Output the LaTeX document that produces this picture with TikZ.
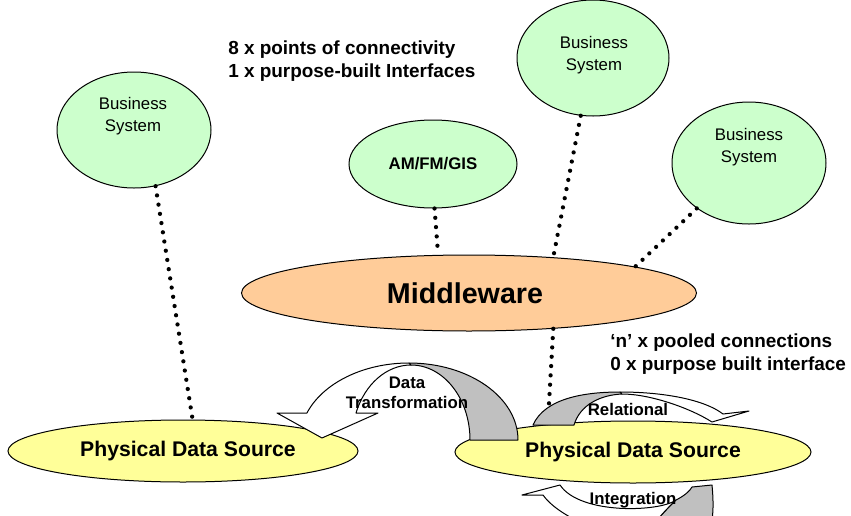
\documentclass[tikz,border=0pt]{standalone}
\usepackage{fontspec}
\setmainfont{Liberation Sans}
\usetikzlibrary{shapes.geometric}
\newdimen\pu \pu=0.75pt
\definecolor{bizgreen}{HTML}{CCFFCC}
\definecolor{mworange}{HTML}{FFCC99}
\definecolor{srcyellow}{HTML}{FFFF99}
\definecolor{backgray}{HTML}{C0C0C0}
\newcommand\bodysize{\fontsize{12.6}{16.5}\selectfont}
\newcommand\arrowsize{\fontsize{12.6}{15}\selectfont}
\newcommand\notesize{\fontsize{14.2}{17.25}\selectfont}
\newcommand\srcsize{\fontsize{15.9}{19}\selectfont}
\begin{document}
\begin{tikzpicture}[x=0.75pt,y=-0.75pt,
  bubble/.style={ellipse, draw=black, line width=0.75pt, inner sep=0pt},
  link/.style={line width=3.2pt, line cap=round, dash pattern=on 0pt off 7pt},
  ribbon/.style={draw=black, line width=0.75pt, line join=round},
  lbl/.style={inner sep=0pt, align=center, font=\bodysize},
  arrlbl/.style={inner sep=0pt, align=center, font=\bfseries\arrowsize},
  note/.style={inner sep=0pt, anchor=west, align=left, font=\bfseries\notesize}]
\useasboundingbox (0,0) rectangle (851,515);
\clip (0,0) rectangle (851,515);

% systems and data sources
\node[bubble, fill=bizgreen, minimum width=154\pu, minimum height=116\pu] (bsL) at (134,130) {};
\node[bubble, fill=bizgreen, minimum width=152\pu, minimum height=116\pu] (bsT) at (593,58) {};
\node[bubble, fill=bizgreen, minimum width=154\pu, minimum height=122\pu] (bsR) at (749,163) {};
\node[bubble, fill=bizgreen, minimum width=168\pu, minimum height=88\pu,
      font=\bfseries\bodysize] (gis) at (433,164) {AM/FM/GIS};
\node[bubble, fill=mworange, minimum width=455\pu, minimum height=76\pu] (mw) at (469,293) {};
\node[bubble, fill=srcyellow, minimum width=350\pu, minimum height=62\pu] (pdsL) at (183,451) {};
\node[bubble, fill=srcyellow, minimum width=356\pu, minimum height=62\pu] (pdsR) at (633,452) {};

\node[lbl] (bsLt) at (133,116) {Business\\System};
\node[lbl] (bsTt) at (594,55) {Business\\System};
\node[lbl] (bsRt) at (749,147) {Business\\System};
\node[inner sep=0pt, font=\bfseries\fontsize{21.5}{26}\selectfont] (mwt) at (465,293) {Middleware};
\node[inner sep=0pt, font=\bfseries\srcsize] (pdsLt) at (188,451) {Physical Data Source};
\node[inner sep=0pt, font=\bfseries\srcsize] (pdsRt) at (633,452) {Physical Data Source};

% dotted links
\draw[link] (bsL.-69.4) -- (pdsL.73.8);
\draw[link] (gis.-88.7) -- (mw.129);
\draw[link] (bsT.-102.8) -- (mw.23.5);
\draw[link] (bsR.-139) -- (mw.9.3);
\draw[link] (mw.-23.7) -- (pdsR.162.3);

% data transformation ribbon
\filldraw[ribbon, fill=white] (277,413) -- (322,438) -- (378,413) -- (356,413)
  arc[start angle=201.1, end angle=270, x radius=59, y radius=75]
  -- (409,363)
  arc[start angle=270, end angle=200.5, x radius=109, y radius=77]
  -- cycle;
\filldraw[ribbon, fill=backgray] (411,365)
  arc[start angle=270, end angle=360, x radius=59, y radius=75]
  -- (518,440)
  arc[start angle=360, end angle=270, x radius=109, y radius=77]
  -- cycle;
\node[arrlbl] (dtt) at (407,393) {Data\\Transformation};

% relational ribbon
\filldraw[ribbon, fill=backgray] (533,425) .. controls (545,398) and (585,392) .. (620,392)
  -- (622,394) .. controls (600,395) and (580,405) .. (574,425) -- cycle;
\filldraw[ribbon, fill=white] (620,392) .. controls (665,392) and (705,400) .. (723,414)
  -- (749,411) -- (712,422)
  .. controls (690,408) and (650,394) .. (622,394) -- cycle;
\node[arrlbl] (relt) at (628,409) {Relational};

% integration ribbon
\filldraw[ribbon, fill=backgray] (676,500) .. controls (684,496) and (690,491) .. (692,487)
  -- (712,485) .. controls (714,505) and (713,520) .. (710,530)
  -- (650,530) .. controls (660,515) and (670,506) .. (676,500) -- cycle;
\filldraw[ribbon, fill=white] (522,495) -- (560,485)
  .. controls (580,515) and (660,512) .. (676,500)
  .. controls (670,506) and (660,515) .. (650,530)
  -- (600,530) .. controls (575,522) and (552,508) .. (543,495) -- cycle;
\node[arrlbl] (intt) at (633,500) {Integration};

% annotations
\node[note] (note1) at (228,61.5) {8 x points of connectivity\\1 x purpose-built Interfaces};
\node[note] (note2) at (610,354) {`n' x pooled connections\\0 x purpose built interface};
\end{tikzpicture}
\end{document}
